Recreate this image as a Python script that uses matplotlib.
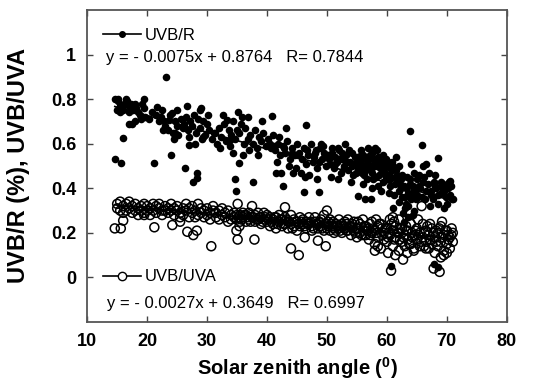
import numpy as np
import matplotlib
matplotlib.use('Agg')
import matplotlib.pyplot as plt
from matplotlib.lines import Line2D

plt.rcParams['font.family'] = ['Liberation Sans', 'DejaVu Sans']
plt.rcParams['mathtext.default'] = 'regular'

# UVB/R (filled dots)
uvbr_x = [
    14.6, 14.7, 15.1, 15.0, 15.6, 15.9, 16.5, 16.9, 17.4, 18.0, 19.4, 19.4,
    21.2, 21.6, 22.4, 23.2, 23.6, 24.0, 24.1, 25.0, 24.7, 26.3, 26.7, 26.9,
    27.6, 28.3, 28.4, 28.8, 29.0, 29.4, 30.2, 31.1, 32.6, 33.3, 33.8, 34.7,
    34.9, 35.1, 35.4, 36.9, 37.7, 39.1, 40.8, 41.5, 42.4, 42.7, 43.2, 44.4,
    46.2, 46.5, 48.6, 55.2, 56.3, 57.4, 63.8, 65.8, 66.6, 68.6, 69.1, 70.5,
    70.8, 60.7, 67.8, 68.6,
    15.2, 15.5, 15.8, 16.2, 16.6, 16.9, 17.3, 17.6, 18.2, 18.5, 18.8, 19.2,
    19.6, 17.0, 15.4, 16.0, 18.0, 19.0,
    20.3, 20.8, 21.5, 22.0, 22.3, 22.8, 23.0, 23.5, 23.8, 24.3, 24.6, 25.0,
    24.4, 25.2, 25.6, 25.9, 22.6,
    26.2, 26.5, 26.8, 27.2, 27.5, 27.8, 28.2, 28.5, 28.9, 29.3, 29.7, 30.0,
    27.0, 28.0, 29.1,
    30.4, 30.8, 31.3, 31.7, 32.0, 32.4, 32.8, 33.1, 33.6, 34.0, 34.4, 34.7,
    35.0, 32.2, 33.9, 34.3,
    35.4, 35.7, 36.1, 36.4, 36.8, 37.2, 37.6, 38.0, 38.3, 38.7, 39.0, 39.4,
    39.8, 36.0, 37.0, 38.5, 35.8,
    40.2, 40.6, 41.0, 41.4, 41.8, 42.2, 42.6, 43.0, 43.4, 43.8, 44.2, 44.6,
    45.0, 41.6, 43.6, 44.9, 42.0,
    45.4, 45.8, 46.1, 46.5, 46.9, 47.3, 47.6, 48.0, 48.4, 48.8, 49.2, 49.5,
    49.9, 46.3, 47.0, 48.3, 49.0, 45.6,
    50.2, 50.5, 50.8, 51.1, 51.4, 51.7, 52.0, 52.3, 52.6, 52.9, 53.2, 53.5,
    53.8, 54.1, 54.4, 54.7, 55.0, 50.6, 51.9, 53.0, 54.0, 55.2,
    55.5, 55.8, 56.1, 56.4, 56.7, 57.0, 57.3, 57.6, 57.9, 58.2, 58.5, 58.8,
    59.1, 59.4, 59.7, 60.0, 56.0, 57.5, 58.0, 59.0, 55.7, 56.9, 58.6, 59.8,
    60.0,
    60.3, 60.6, 60.9, 61.2, 61.5, 61.8, 62.1, 62.4, 62.7, 63.0, 63.3, 63.6,
    63.9, 64.2, 64.5, 64.8, 65.1, 61.0, 62.0, 62.9, 63.5, 64.0, 60.5, 61.6,
    62.5, 63.2, 64.6,
    65.4, 65.8, 66.2, 66.6, 67.0, 67.4, 67.8, 68.2, 68.6, 69.0, 69.4, 69.8,
    70.2, 70.6, 71.0, 66.0, 67.2, 68.0, 69.5, 70.4,
]
uvbr_y = [
    0.53, 0.80, 0.80, 0.75, 0.515, 0.625, 0.80, 0.69, 0.69, 0.78, 0.80, 0.76,
    0.515, 0.766, 0.75, 0.90, 0.707, 0.55, 0.737, 0.75, 0.648, 0.49, 0.77, 0.596,
    0.426, 0.47, 0.445, 0.75, 0.76, 0.63, 0.73, 0.648, 0.73, 0.707, 0.618, 0.44,
    0.39, 0.744, 0.515, 0.72, 0.426, 0.70, 0.725, 0.47, 0.47, 0.41, 0.67, 0.47,
    0.382, 0.685, 0.382, 0.367, 0.352, 0.352, 0.655, 0.596, 0.507, 0.537, 0.41, 0.433,
    0.35, 0.05, 0.06, 0.045,
    0.79, 0.77, 0.76, 0.78, 0.79, 0.77, 0.78, 0.75, 0.76, 0.74, 0.73, 0.78,
    0.72, 0.74, 0.74, 0.75, 0.70, 0.71,
    0.71, 0.74, 0.73, 0.70, 0.72, 0.70, 0.68, 0.66, 0.73, 0.65, 0.70, 0.68,
    0.62, 0.64, 0.71, 0.67, 0.66,
    0.69, 0.72, 0.66, 0.70, 0.68, 0.73, 0.65, 0.71, 0.67, 0.70, 0.64, 0.69,
    0.63, 0.60, 0.62,
    0.66, 0.62, 0.65, 0.60, 0.67, 0.63, 0.69, 0.61, 0.66, 0.64, 0.70, 0.62,
    0.66, 0.58, 0.59, 0.56,
    0.65, 0.69, 0.60, 0.67, 0.62, 0.64, 0.60, 0.66, 0.58, 0.63, 0.61, 0.65,
    0.59, 0.55, 0.57, 0.55, 0.72,
    0.62, 0.58, 0.64, 0.57, 0.60, 0.55, 0.59, 0.56, 0.61, 0.53, 0.58, 0.55,
    0.60, 0.52, 0.50, 0.49, 0.63,
    0.56, 0.53, 0.58, 0.51, 0.55, 0.60, 0.52, 0.56, 0.49, 0.58, 0.53, 0.56,
    0.50, 0.45, 0.46, 0.44, 0.60, 0.47,
    0.55, 0.51, 0.58, 0.49, 0.54, 0.52, 0.57, 0.47, 0.53, 0.50, 0.55, 0.48,
    0.52, 0.56, 0.46, 0.51, 0.54, 0.45, 0.44, 0.60, 0.43, 0.49,
    0.52, 0.47, 0.55, 0.50, 0.44, 0.53, 0.48, 0.56, 0.51, 0.45, 0.54, 0.49,
    0.52, 0.43, 0.47, 0.50, 0.42, 0.40, 0.58, 0.39, 0.57, 0.58, 0.41, 0.53,
    0.44,
    0.46, 0.41, 0.52, 0.37, 0.48, 0.43, 0.34, 0.40, 0.29, 0.36, 0.45, 0.32,
    0.42, 0.38, 0.47, 0.35, 0.44, 0.31, 0.50, 0.25, 0.27, 0.51, 0.49, 0.54,
    0.46, 0.40, 0.30,
    0.41, 0.36, 0.45, 0.39, 0.47, 0.37, 0.43, 0.40, 0.33, 0.38, 0.42, 0.36,
    0.40, 0.37, 0.35, 0.50, 0.32, 0.46, 0.31, 0.43,
]
# extra UVB/R points in the dense part of the cloud
uvbr_x_dense = [
    48.2, 48.7, 49.3, 49.7, 50.4, 50.9, 51.3, 51.8, 52.1, 52.5, 52.8, 53.3,
    53.7, 54.2, 54.6, 54.9, 55.3, 55.6, 55.9, 56.3, 56.6, 56.9, 57.2, 57.5,
    57.8, 58.1, 58.4, 58.7, 59.0, 59.3, 59.6, 59.9, 60.2, 60.5, 60.8, 61.1,
    61.4, 61.7, 62.0, 62.3, 62.6, 62.9, 63.2, 63.5, 63.8, 64.1, 64.4, 64.7,
    65.0, 65.3, 65.6, 66.0, 66.4, 66.8, 67.3, 67.7, 68.1, 68.5, 69.0, 69.6,
    70.1, 70.7, 40.5, 41.2, 42.9, 44.1, 45.2, 46.7, 47.8,
    56.2, 57.0, 57.7, 58.3, 59.5, 60.4, 61.3, 62.2, 63.0, 64.3,
]
uvbr_y_dense = [
    0.57, 0.52, 0.59, 0.55, 0.53, 0.56, 0.51, 0.58, 0.53, 0.56, 0.49, 0.52,
    0.57, 0.50, 0.54, 0.47, 0.51, 0.55, 0.50, 0.53, 0.48, 0.51, 0.55, 0.47,
    0.53, 0.50, 0.57, 0.46, 0.51, 0.55, 0.49, 0.45, 0.52, 0.44, 0.48, 0.50,
    0.42, 0.46, 0.39, 0.44, 0.36, 0.41, 0.33, 0.38, 0.44, 0.35, 0.41, 0.39,
    0.37, 0.46, 0.40, 0.43, 0.35, 0.42, 0.39, 0.35, 0.41, 0.37, 0.43, 0.39,
    0.33, 0.41, 0.60, 0.59, 0.58, 0.56, 0.55, 0.57, 0.54,
    0.46, 0.49, 0.44, 0.52, 0.47, 0.38, 0.45, 0.42, 0.31, 0.28,
]

# UVB/UVA (open circles)
uvba_x = [
    15.0, 15.0, 15.5, 15.5, 16.0, 16.0, 16.5, 16.5, 17.0, 17.0, 17.5, 17.5,
    18.0, 18.0, 18.5, 18.5, 19.0, 19.0, 19.5, 19.5, 20.0, 20.0, 20.5, 20.5,
    21.0, 21.0, 21.5, 21.5, 22.0, 22.0, 22.5, 22.5, 23.0, 23.0, 23.5, 23.5,
    24.0, 24.0, 24.5, 24.5, 25.0, 25.0, 25.5, 25.5, 26.0, 26.0, 26.5, 26.5,
    27.0, 27.0, 27.5, 27.5, 28.0, 28.0, 28.5, 28.5, 29.0, 29.0, 29.5, 29.5,
    30.0, 30.0, 30.5, 30.5, 31.0, 31.0, 31.5, 31.5, 32.0, 32.0, 32.5, 32.5,
    33.0, 33.0, 33.5, 33.5, 34.0, 34.0, 34.5, 34.5, 35.0, 35.0, 35.5, 35.5,
    36.0, 36.0, 36.5, 36.5, 37.0, 37.0, 37.5, 37.5, 38.0, 38.0, 38.5, 38.5,
    39.0, 39.0, 39.5, 39.5, 40.0, 40.0, 40.5, 40.5, 41.0, 41.0, 41.5, 41.5,
    42.0, 42.0, 42.5, 42.5, 43.0, 43.0, 43.5, 43.5, 44.0, 44.0, 44.5, 44.5,
    45.0, 45.0, 45.5, 45.5, 46.0, 46.0, 46.5, 46.5, 47.0, 47.0, 47.5, 47.5,
    48.0, 48.0, 48.5, 48.5, 49.0, 49.0, 49.5, 49.5, 50.0, 50.0, 50.5, 50.5,
    51.0, 51.0, 51.5, 51.5, 52.0, 52.0, 52.5, 52.5, 53.0, 53.0, 53.5, 53.5,
    54.0, 54.0, 54.5, 54.5, 55.0, 55.0, 55.5, 55.5, 56.0, 56.0, 56.5, 56.5,
    57.0, 57.0, 57.5, 57.5, 58.0, 58.0, 58.5, 58.5, 59.0, 59.0, 59.5, 59.5,
    60.0, 60.0, 60.5, 60.5, 61.0, 61.0, 61.5, 61.5, 62.0, 62.0, 62.5, 62.5,
    63.0, 63.0, 63.5, 63.5, 64.0, 64.0, 64.5, 64.5, 65.0, 65.0, 65.5, 65.5,
    66.0, 66.0, 66.5, 66.5, 67.0, 67.0, 67.5, 67.5, 68.0, 68.0, 68.5, 68.5,
    69.0, 69.0, 69.5, 69.5, 70.0, 70.0, 70.5, 70.5, 71.0, 71.0,
    50.2, 51.2, 52.2, 53.2, 54.2, 55.2, 56.2, 57.2, 58.2, 59.2, 60.2, 61.2,
    62.2, 63.2, 64.2, 65.2, 66.2, 67.2, 68.2, 69.2, 70.2, 70.8,
    14.6, 15.6, 16.0, 19.5, 21.2, 24.2, 25.5, 26.7, 27.7, 28.3, 30.7, 34.9,
    35.1, 35.4, 37.9, 35.1, 43.0, 44.0, 45.3, 48.5, 49.8, 46.3, 58.0, 58.5,
    60.7, 61.4, 62.7, 65.8, 63.4, 67.8, 68.8, 69.0, 70.0, 69.5, 60.2, 64.5,
    66.5, 50.0, 61.0, 62.0,
]
uvba_y = [
    0.33, 0.31, 0.30, 0.34, 0.32, 0.29, 0.33, 0.30, 0.31, 0.34, 0.29, 0.32,
    0.33, 0.30, 0.31, 0.28, 0.32, 0.30, 0.33, 0.29, 0.30, 0.32, 0.31, 0.28,
    0.33, 0.30, 0.29, 0.32, 0.31, 0.33, 0.28, 0.30, 0.32, 0.30, 0.29, 0.31,
    0.33, 0.30, 0.28, 0.31, 0.30, 0.32, 0.27, 0.29, 0.31, 0.28, 0.30, 0.33,
    0.27, 0.31, 0.29, 0.32, 0.30, 0.27, 0.33, 0.28, 0.29, 0.31, 0.27, 0.30,
    0.31, 0.28, 0.29, 0.26, 0.30, 0.32, 0.27, 0.29, 0.30, 0.26, 0.28, 0.31,
    0.27, 0.29, 0.30, 0.25, 0.28, 0.26, 0.29, 0.27, 0.26, 0.28, 0.28, 0.25,
    0.27, 0.29, 0.25, 0.28, 0.29, 0.26, 0.27, 0.32, 0.28, 0.25, 0.26, 0.29,
    0.27, 0.24, 0.29, 0.26, 0.25, 0.28, 0.27, 0.23, 0.26, 0.24, 0.22, 0.27,
    0.25, 0.28, 0.23, 0.26, 0.27, 0.24, 0.25, 0.22, 0.28, 0.24, 0.23, 0.26,
    0.25, 0.21, 0.27, 0.23, 0.24, 0.26, 0.22, 0.25, 0.27, 0.24, 0.23, 0.21,
    0.25, 0.27, 0.22, 0.24, 0.26, 0.23, 0.28, 0.21, 0.24, 0.22, 0.26, 0.21,
    0.23, 0.25, 0.21, 0.24, 0.26, 0.22, 0.24, 0.20, 0.22, 0.25, 0.26, 0.21,
    0.23, 0.19, 0.25, 0.21, 0.22, 0.18, 0.24, 0.20, 0.26, 0.21, 0.19, 0.23,
    0.22, 0.17, 0.25, 0.20, 0.21, 0.15, 0.18, 0.23, 0.24, 0.13, 0.20, 0.17,
    0.22, 0.16, 0.26, 0.19, 0.14, 0.21, 0.18, 0.23, 0.20, 0.12, 0.16, 0.22,
    0.19, 0.14, 0.21, 0.17, 0.15, 0.24, 0.19, 0.13, 0.22, 0.17, 0.14, 0.20,
    0.24, 0.18, 0.16, 0.21, 0.19, 0.13, 0.22, 0.15, 0.11, 0.18, 0.20, 0.14,
    0.16, 0.23, 0.12, 0.19, 0.21, 0.15, 0.13, 0.18, 0.20, 0.16,
    0.25, 0.20, 0.23, 0.24, 0.22, 0.25, 0.19, 0.24, 0.26, 0.22, 0.18, 0.25,
    0.17, 0.23, 0.20, 0.26, 0.14, 0.24, 0.21, 0.25, 0.19, 0.22,
    0.22, 0.22, 0.255, 0.28, 0.225, 0.235, 0.25, 0.205, 0.19, 0.21, 0.14, 0.21,
    0.17, 0.23, 0.17, 0.33, 0.315, 0.13, 0.10, 0.165, 0.14, 0.18, 0.12, 0.14,
    0.03, 0.10, 0.08, 0.32, 0.11, 0.04, 0.025, 0.09, 0.11, 0.10, 0.11, 0.12,
    0.13, 0.30, 0.27, 0.26,
]
# extra UVB/UVA points in the dense part of the band
uvba_x_dense = [
    35.25, 35.75, 36.25, 36.75, 37.25, 37.75, 38.25, 38.75, 39.25, 39.75,
    40.25, 40.75, 41.25, 41.75, 42.25, 42.75, 43.25, 43.75, 44.25, 44.75,
    45.25, 45.75, 46.25, 46.75, 47.25, 47.75, 48.25, 48.75, 49.25, 49.75,
    50.25, 50.75, 51.25, 51.75, 52.25, 52.75, 53.25, 53.75, 54.25, 54.75,
    55.25, 55.75, 56.25, 56.75, 57.25, 57.75, 58.25, 58.75, 59.25, 59.75,
    60.25, 60.75, 61.25, 61.75, 62.25, 62.75, 63.25, 63.75, 64.25, 64.75,
    65.25, 65.75, 66.25, 66.75, 67.25, 67.75, 68.25, 68.75, 69.25, 69.75,
    70.25, 70.75,
]
uvba_y_dense = [
    0.27, 0.26, 0.28, 0.27, 0.25, 0.27, 0.26, 0.27, 0.25, 0.27,
    0.26, 0.25, 0.27, 0.24, 0.26, 0.24, 0.26, 0.25, 0.22, 0.25,
    0.24, 0.25, 0.23, 0.24, 0.25, 0.22, 0.24, 0.25, 0.22, 0.24,
    0.23, 0.24, 0.22, 0.23, 0.21, 0.23, 0.21, 0.23, 0.24, 0.20,
    0.22, 0.19, 0.23, 0.21, 0.19, 0.22, 0.20, 0.24, 0.19, 0.22,
    0.20, 0.24, 0.17, 0.20, 0.22, 0.18, 0.21, 0.15, 0.18, 0.21,
    0.19, 0.16, 0.20, 0.23, 0.17, 0.20, 0.16, 0.22, 0.18, 0.21,
    0.17, 0.19,
]

# regression coefficients from the chart
fit_r = (-0.0075, 0.8764)
fit_a = (-0.0027, 0.3649)

fig = plt.figure(figsize=(5.52, 3.82), dpi=100)
ax = fig.add_axes([0.158, 0.157, 0.76, 0.817])

ax.scatter(uvba_x + uvba_x_dense, uvba_y + uvba_y_dense, s=42,
           facecolors='none', edgecolors='black', linewidths=1.1, zorder=2)
ax.scatter(uvbr_x + uvbr_x_dense, uvbr_y + uvbr_y_dense, s=30,
           color='black', linewidths=0, zorder=3)

xr = np.array([min(uvbr_x), max(uvbr_x)])
ax.plot(xr, fit_r[0] * xr + fit_r[1], color='black', lw=1.2, zorder=4)
xa = np.array([min(uvba_x), max(uvba_x)])
ax.plot(xa, fit_a[0] * xa + fit_a[1], color='black', lw=1.2, zorder=4)

ax.set_xlim(10, 80)
ax.set_ylim(-0.2, 1.2)
ax.set_xticks(range(10, 81, 10))
ax.set_yticks([0, 0.2, 0.4, 0.6, 0.8, 1])
ax.set_yticklabels(['0', '0.2', '0.4', '0.6', '0.8', '1'])
ax.tick_params(direction='in', length=4, width=1, top=True, right=True,
               labelsize=13, colors='#444444', labelcolor='black')
ax.tick_params(axis='y', pad=8)
ax.tick_params(axis='x', pad=8)
for lab in ax.get_xticklabels() + ax.get_yticklabels():
    lab.set_fontweight('bold')
for sp in ax.spines.values():
    sp.set_color('#555555')
    sp.set_linewidth(1.3)

ax.set_xlabel('Solar zenith angle ($^{0}$)', fontsize=14.5, fontweight='bold')
ax.xaxis.set_label_coords(0.5, -0.105)
ax.set_ylabel('UVB/R (%), UVB/UVA', fontsize=17, fontweight='bold')
ax.yaxis.set_label_coords(-0.137, 0.5)

# legends
h1 = Line2D([], [], color='black', lw=1.2, marker='o', markersize=4)
h2 = Line2D([], [], color='black', lw=1.2, marker='o', markersize=6,
            markerfacecolor='white', markeredgewidth=1.0)
leg1 = ax.legend([h1], ['UVB/R'], loc='upper left', bbox_to_anchor=(0.022, 0.965),
                 frameon=False, fontsize=12, handlelength=2.3, handletextpad=0.2,
                 borderaxespad=0)
ax.add_artist(leg1)
ax.legend([h2], ['UVB/UVA'], loc='upper left', bbox_to_anchor=(0.022, 0.19),
          frameon=False, fontsize=12, handlelength=2.3, handletextpad=0.2,
          borderaxespad=0)

ax.text(0.045, 0.848, 'y = - 0.0075x + 0.8764   R= 0.7844', transform=ax.transAxes,
        fontsize=12, va='center', ha='left')
ax.text(0.048, 0.06, 'y = - 0.0027x + 0.3649   R= 0.6997', transform=ax.transAxes,
        fontsize=12, va='center', ha='left')

fig.savefig('out.png', dpi=100)
